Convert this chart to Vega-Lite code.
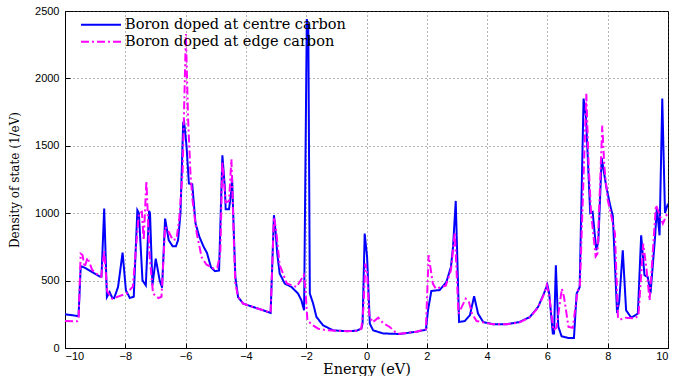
{
  "$schema": "https://vega.github.io/schema/vega-lite/v6.json",
  "width": 603,
  "height": 337,
  "autosize": {"type": "none"},
  "padding": {"left": 65, "top": 11, "right": 9, "bottom": 28},
  "background": "white",
  "config": {
    "view": {"stroke": "black", "strokeWidth": 1},
    "axis": {
      "domainColor": "black",
      "tickColor": "black",
      "gridColor": "#444",
      "gridDash": [1, 3],
      "gridOpacity": 0.8,
      "labelFont": "Liberation Sans",
      "labelFontSize": 11,
      "labelColor": "black",
      "titleFont": "DejaVu Serif",
      "titleFontSize": 14.5,
      "titleFontWeight": "normal",
      "titleColor": "black"
    }
  },
  "data": {
    "values": [
      {"energy": -10, "dos": 250, "series": "Boron doped at centre carbon"},
      {"energy": -9.6, "dos": 238, "series": "Boron doped at centre carbon"},
      {"energy": -9.55, "dos": 240, "series": "Boron doped at centre carbon"},
      {"energy": -9.48, "dos": 600, "series": "Boron doped at centre carbon"},
      {"energy": -9.44, "dos": 605, "series": "Boron doped at centre carbon"},
      {"energy": -9.3, "dos": 590, "series": "Boron doped at centre carbon"},
      {"energy": -9.0, "dos": 550, "series": "Boron doped at centre carbon"},
      {"energy": -8.85, "dos": 530, "series": "Boron doped at centre carbon"},
      {"energy": -8.79, "dos": 530, "series": "Boron doped at centre carbon"},
      {"energy": -8.7, "dos": 1035, "series": "Boron doped at centre carbon"},
      {"energy": -8.61, "dos": 378, "series": "Boron doped at centre carbon"},
      {"energy": -8.52, "dos": 415, "series": "Boron doped at centre carbon"},
      {"energy": -8.43, "dos": 371, "series": "Boron doped at centre carbon"},
      {"energy": -8.37, "dos": 370, "series": "Boron doped at centre carbon"},
      {"energy": -8.24, "dos": 453, "series": "Boron doped at centre carbon"},
      {"energy": -8.09, "dos": 708, "series": "Boron doped at centre carbon"},
      {"energy": -7.98, "dos": 428, "series": "Boron doped at centre carbon"},
      {"energy": -7.85, "dos": 371, "series": "Boron doped at centre carbon"},
      {"energy": -7.72, "dos": 380, "series": "Boron doped at centre carbon"},
      {"energy": -7.6, "dos": 1022, "series": "Boron doped at centre carbon"},
      {"energy": -7.55, "dos": 1000, "series": "Boron doped at centre carbon"},
      {"energy": -7.43, "dos": 502, "series": "Boron doped at centre carbon"},
      {"energy": -7.32, "dos": 465, "series": "Boron doped at centre carbon"},
      {"energy": -7.21, "dos": 1017, "series": "Boron doped at centre carbon"},
      {"energy": -7.18, "dos": 1000, "series": "Boron doped at centre carbon"},
      {"energy": -7.1, "dos": 465, "series": "Boron doped at centre carbon"},
      {"energy": -6.99, "dos": 663, "series": "Boron doped at centre carbon"},
      {"energy": -6.86, "dos": 502, "series": "Boron doped at centre carbon"},
      {"energy": -6.78, "dos": 448, "series": "Boron doped at centre carbon"},
      {"energy": -6.68, "dos": 960, "series": "Boron doped at centre carbon"},
      {"energy": -6.65, "dos": 920, "series": "Boron doped at centre carbon"},
      {"energy": -6.56, "dos": 800, "series": "Boron doped at centre carbon"},
      {"energy": -6.43, "dos": 755, "series": "Boron doped at centre carbon"},
      {"energy": -6.32, "dos": 755, "series": "Boron doped at centre carbon"},
      {"energy": -6.25, "dos": 800, "series": "Boron doped at centre carbon"},
      {"energy": -6.17, "dos": 1000, "series": "Boron doped at centre carbon"},
      {"energy": -6.08, "dos": 1670, "series": "Boron doped at centre carbon"},
      {"energy": -6.05, "dos": 1680, "series": "Boron doped at centre carbon"},
      {"energy": -5.97, "dos": 1500, "series": "Boron doped at centre carbon"},
      {"energy": -5.89, "dos": 1220, "series": "Boron doped at centre carbon"},
      {"energy": -5.78, "dos": 1215, "series": "Boron doped at centre carbon"},
      {"energy": -5.67, "dos": 923, "series": "Boron doped at centre carbon"},
      {"energy": -5.54, "dos": 823, "series": "Boron doped at centre carbon"},
      {"energy": -5.4, "dos": 750, "series": "Boron doped at centre carbon"},
      {"energy": -5.29, "dos": 705, "series": "Boron doped at centre carbon"},
      {"energy": -5.16, "dos": 600, "series": "Boron doped at centre carbon"},
      {"energy": -5.03, "dos": 570, "series": "Boron doped at centre carbon"},
      {"energy": -4.89, "dos": 575, "series": "Boron doped at centre carbon"},
      {"energy": -4.78, "dos": 1430, "series": "Boron doped at centre carbon"},
      {"energy": -4.7, "dos": 1195, "series": "Boron doped at centre carbon"},
      {"energy": -4.67, "dos": 1030, "series": "Boron doped at centre carbon"},
      {"energy": -4.56, "dos": 1030, "series": "Boron doped at centre carbon"},
      {"energy": -4.48, "dos": 1170, "series": "Boron doped at centre carbon"},
      {"energy": -4.46, "dos": 1280, "series": "Boron doped at centre carbon"},
      {"energy": -4.4, "dos": 850, "series": "Boron doped at centre carbon"},
      {"energy": -4.35, "dos": 527, "series": "Boron doped at centre carbon"},
      {"energy": -4.26, "dos": 378, "series": "Boron doped at centre carbon"},
      {"energy": -4.09, "dos": 329, "series": "Boron doped at centre carbon"},
      {"energy": -3.76, "dos": 304, "series": "Boron doped at centre carbon"},
      {"energy": -3.43, "dos": 280, "series": "Boron doped at centre carbon"},
      {"energy": -3.18, "dos": 260, "series": "Boron doped at centre carbon"},
      {"energy": -3.07, "dos": 985, "series": "Boron doped at centre carbon"},
      {"energy": -3.01, "dos": 849, "series": "Boron doped at centre carbon"},
      {"energy": -2.96, "dos": 700, "series": "Boron doped at centre carbon"},
      {"energy": -2.88, "dos": 552, "series": "Boron doped at centre carbon"},
      {"energy": -2.71, "dos": 478, "series": "Boron doped at centre carbon"},
      {"energy": -2.49, "dos": 453, "series": "Boron doped at centre carbon"},
      {"energy": -2.27, "dos": 404, "series": "Boron doped at centre carbon"},
      {"energy": -2.16, "dos": 354, "series": "Boron doped at centre carbon"},
      {"energy": -2.07, "dos": 280, "series": "Boron doped at centre carbon"},
      {"energy": -1.98, "dos": 2440, "series": "Boron doped at centre carbon"},
      {"energy": -1.93, "dos": 2380, "series": "Boron doped at centre carbon"},
      {"energy": -1.88, "dos": 404, "series": "Boron doped at centre carbon"},
      {"energy": -1.77, "dos": 330, "series": "Boron doped at centre carbon"},
      {"energy": -1.66, "dos": 230, "series": "Boron doped at centre carbon"},
      {"energy": -1.44, "dos": 168, "series": "Boron doped at centre carbon"},
      {"energy": -1.11, "dos": 131, "series": "Boron doped at centre carbon"},
      {"energy": -0.66, "dos": 125, "series": "Boron doped at centre carbon"},
      {"energy": -0.33, "dos": 128, "series": "Boron doped at centre carbon"},
      {"energy": -0.17, "dos": 144, "series": "Boron doped at centre carbon"},
      {"energy": -0.13, "dos": 183, "series": "Boron doped at centre carbon"},
      {"energy": -0.06, "dos": 849, "series": "Boron doped at centre carbon"},
      {"energy": 0.02, "dos": 675, "series": "Boron doped at centre carbon"},
      {"energy": 0.11, "dos": 181, "series": "Boron doped at centre carbon"},
      {"energy": 0.22, "dos": 131, "series": "Boron doped at centre carbon"},
      {"energy": 0.55, "dos": 108, "series": "Boron doped at centre carbon"},
      {"energy": 1.1, "dos": 104, "series": "Boron doped at centre carbon"},
      {"energy": 1.66, "dos": 121, "series": "Boron doped at centre carbon"},
      {"energy": 1.97, "dos": 136, "series": "Boron doped at centre carbon"},
      {"energy": 2.04, "dos": 280, "series": "Boron doped at centre carbon"},
      {"energy": 2.15, "dos": 423, "series": "Boron doped at centre carbon"},
      {"energy": 2.43, "dos": 430, "series": "Boron doped at centre carbon"},
      {"energy": 2.65, "dos": 490, "series": "Boron doped at centre carbon"},
      {"energy": 2.8, "dos": 601, "series": "Boron doped at centre carbon"},
      {"energy": 2.87, "dos": 750, "series": "Boron doped at centre carbon"},
      {"energy": 2.96, "dos": 1091, "series": "Boron doped at centre carbon"},
      {"energy": 3.07, "dos": 193, "series": "Boron doped at centre carbon"},
      {"energy": 3.26, "dos": 200, "series": "Boron doped at centre carbon"},
      {"energy": 3.43, "dos": 243, "series": "Boron doped at centre carbon"},
      {"energy": 3.57, "dos": 384, "series": "Boron doped at centre carbon"},
      {"energy": 3.7, "dos": 255, "series": "Boron doped at centre carbon"},
      {"energy": 3.87, "dos": 193, "series": "Boron doped at centre carbon"},
      {"energy": 4.2, "dos": 176, "series": "Boron doped at centre carbon"},
      {"energy": 4.64, "dos": 176, "series": "Boron doped at centre carbon"},
      {"energy": 5.08, "dos": 193, "series": "Boron doped at centre carbon"},
      {"energy": 5.42, "dos": 230, "series": "Boron doped at centre carbon"},
      {"energy": 5.69, "dos": 304, "series": "Boron doped at centre carbon"},
      {"energy": 5.86, "dos": 391, "series": "Boron doped at centre carbon"},
      {"energy": 6.0, "dos": 470, "series": "Boron doped at centre carbon"},
      {"energy": 6.06, "dos": 404, "series": "Boron doped at centre carbon"},
      {"energy": 6.18, "dos": 107, "series": "Boron doped at centre carbon"},
      {"energy": 6.22, "dos": 107, "series": "Boron doped at centre carbon"},
      {"energy": 6.28, "dos": 614, "series": "Boron doped at centre carbon"},
      {"energy": 6.36, "dos": 160, "series": "Boron doped at centre carbon"},
      {"energy": 6.47, "dos": 87, "series": "Boron doped at centre carbon"},
      {"energy": 6.69, "dos": 74, "series": "Boron doped at centre carbon"},
      {"energy": 6.88, "dos": 74, "series": "Boron doped at centre carbon"},
      {"energy": 6.97, "dos": 404, "series": "Boron doped at centre carbon"},
      {"energy": 7.03, "dos": 430, "series": "Boron doped at centre carbon"},
      {"energy": 7.07, "dos": 453, "series": "Boron doped at centre carbon"},
      {"energy": 7.2, "dos": 1850, "series": "Boron doped at centre carbon"},
      {"energy": 7.28, "dos": 1714, "series": "Boron doped at centre carbon"},
      {"energy": 7.42, "dos": 1000, "series": "Boron doped at centre carbon"},
      {"energy": 7.5, "dos": 1010, "series": "Boron doped at centre carbon"},
      {"energy": 7.62, "dos": 725, "series": "Boron doped at centre carbon"},
      {"energy": 7.69, "dos": 790, "series": "Boron doped at centre carbon"},
      {"energy": 7.8, "dos": 1410, "series": "Boron doped at centre carbon"},
      {"energy": 7.95, "dos": 1200, "series": "Boron doped at centre carbon"},
      {"energy": 8.08, "dos": 1060, "series": "Boron doped at centre carbon"},
      {"energy": 8.17, "dos": 980, "series": "Boron doped at centre carbon"},
      {"energy": 8.31, "dos": 260, "series": "Boron doped at centre carbon"},
      {"energy": 8.38, "dos": 340, "series": "Boron doped at centre carbon"},
      {"energy": 8.5, "dos": 725, "series": "Boron doped at centre carbon"},
      {"energy": 8.61, "dos": 280, "series": "Boron doped at centre carbon"},
      {"energy": 8.78, "dos": 225, "series": "Boron doped at centre carbon"},
      {"energy": 9.0, "dos": 255, "series": "Boron doped at centre carbon"},
      {"energy": 9.11, "dos": 836, "series": "Boron doped at centre carbon"},
      {"energy": 9.22, "dos": 540, "series": "Boron doped at centre carbon"},
      {"energy": 9.33, "dos": 525, "series": "Boron doped at centre carbon"},
      {"energy": 9.42, "dos": 404, "series": "Boron doped at centre carbon"},
      {"energy": 9.57, "dos": 820, "series": "Boron doped at centre carbon"},
      {"energy": 9.63, "dos": 1040, "series": "Boron doped at centre carbon"},
      {"energy": 9.72, "dos": 836, "series": "Boron doped at centre carbon"},
      {"energy": 9.81, "dos": 1850, "series": "Boron doped at centre carbon"},
      {"energy": 9.9, "dos": 1002, "series": "Boron doped at centre carbon"},
      {"energy": 10.0, "dos": 1071, "series": "Boron doped at centre carbon"},

      {"energy": -10, "dos": 200, "series": "Boron doped at edge carbon"},
      {"energy": -9.6, "dos": 198, "series": "Boron doped at edge carbon"},
      {"energy": -9.55, "dos": 215, "series": "Boron doped at edge carbon"},
      {"energy": -9.48, "dos": 700, "series": "Boron doped at edge carbon"},
      {"energy": -9.42, "dos": 690, "series": "Boron doped at edge carbon"},
      {"energy": -9.35, "dos": 600, "series": "Boron doped at edge carbon"},
      {"energy": -9.25, "dos": 670, "series": "Boron doped at edge carbon"},
      {"energy": -9.1, "dos": 580, "series": "Boron doped at edge carbon"},
      {"energy": -8.95, "dos": 550, "series": "Boron doped at edge carbon"},
      {"energy": -8.8, "dos": 530, "series": "Boron doped at edge carbon"},
      {"energy": -8.7, "dos": 720, "series": "Boron doped at edge carbon"},
      {"energy": -8.6, "dos": 420, "series": "Boron doped at edge carbon"},
      {"energy": -8.43, "dos": 365, "series": "Boron doped at edge carbon"},
      {"energy": -8.2, "dos": 385, "series": "Boron doped at edge carbon"},
      {"energy": -7.96, "dos": 404, "series": "Boron doped at edge carbon"},
      {"energy": -7.75, "dos": 455, "series": "Boron doped at edge carbon"},
      {"energy": -7.55, "dos": 1000, "series": "Boron doped at edge carbon"},
      {"energy": -7.45, "dos": 1010, "series": "Boron doped at edge carbon"},
      {"energy": -7.39, "dos": 800, "series": "Boron doped at edge carbon"},
      {"energy": -7.3, "dos": 1240, "series": "Boron doped at edge carbon"},
      {"energy": -7.2, "dos": 700, "series": "Boron doped at edge carbon"},
      {"energy": -7.08, "dos": 404, "series": "Boron doped at edge carbon"},
      {"energy": -6.9, "dos": 370, "series": "Boron doped at edge carbon"},
      {"energy": -6.8, "dos": 380, "series": "Boron doped at edge carbon"},
      {"energy": -6.68, "dos": 898, "series": "Boron doped at edge carbon"},
      {"energy": -6.58, "dos": 870, "series": "Boron doped at edge carbon"},
      {"energy": -6.42, "dos": 800, "series": "Boron doped at edge carbon"},
      {"energy": -6.3, "dos": 810, "series": "Boron doped at edge carbon"},
      {"energy": -6.21, "dos": 960, "series": "Boron doped at edge carbon"},
      {"energy": -6.1, "dos": 1300, "series": "Boron doped at edge carbon"},
      {"energy": -5.99, "dos": 2330, "series": "Boron doped at edge carbon"},
      {"energy": -5.92, "dos": 1714, "series": "Boron doped at edge carbon"},
      {"energy": -5.84, "dos": 1300, "series": "Boron doped at edge carbon"},
      {"energy": -5.77, "dos": 1096, "series": "Boron doped at edge carbon"},
      {"energy": -5.63, "dos": 850, "series": "Boron doped at edge carbon"},
      {"energy": -5.47, "dos": 675, "series": "Boron doped at edge carbon"},
      {"energy": -5.31, "dos": 620, "series": "Boron doped at edge carbon"},
      {"energy": -5.08, "dos": 590, "series": "Boron doped at edge carbon"},
      {"energy": -4.95, "dos": 595, "series": "Boron doped at edge carbon"},
      {"energy": -4.85, "dos": 700, "series": "Boron doped at edge carbon"},
      {"energy": -4.78, "dos": 1380, "series": "Boron doped at edge carbon"},
      {"energy": -4.67, "dos": 1080, "series": "Boron doped at edge carbon"},
      {"energy": -4.56, "dos": 1090, "series": "Boron doped at edge carbon"},
      {"energy": -4.48, "dos": 1400, "series": "Boron doped at edge carbon"},
      {"energy": -4.4, "dos": 800, "series": "Boron doped at edge carbon"},
      {"energy": -4.35, "dos": 480, "series": "Boron doped at edge carbon"},
      {"energy": -4.26, "dos": 380, "series": "Boron doped at edge carbon"},
      {"energy": -4.09, "dos": 329, "series": "Boron doped at edge carbon"},
      {"energy": -3.76, "dos": 304, "series": "Boron doped at edge carbon"},
      {"energy": -3.43, "dos": 280, "series": "Boron doped at edge carbon"},
      {"energy": -3.18, "dos": 262, "series": "Boron doped at edge carbon"},
      {"energy": -3.07, "dos": 970, "series": "Boron doped at edge carbon"},
      {"energy": -3.0, "dos": 880, "series": "Boron doped at edge carbon"},
      {"energy": -2.88, "dos": 615, "series": "Boron doped at edge carbon"},
      {"energy": -2.64, "dos": 478, "series": "Boron doped at edge carbon"},
      {"energy": -2.32, "dos": 453, "series": "Boron doped at edge carbon"},
      {"energy": -2.08, "dos": 540, "series": "Boron doped at edge carbon"},
      {"energy": -2.03, "dos": 450, "series": "Boron doped at edge carbon"},
      {"energy": -1.96, "dos": 205, "series": "Boron doped at edge carbon"},
      {"energy": -1.78, "dos": 168, "series": "Boron doped at edge carbon"},
      {"energy": -1.6, "dos": 143, "series": "Boron doped at edge carbon"},
      {"energy": -1.3, "dos": 131, "series": "Boron doped at edge carbon"},
      {"energy": -0.66, "dos": 125, "series": "Boron doped at edge carbon"},
      {"energy": -0.33, "dos": 128, "series": "Boron doped at edge carbon"},
      {"energy": -0.17, "dos": 144, "series": "Boron doped at edge carbon"},
      {"energy": -0.1, "dos": 300, "series": "Boron doped at edge carbon"},
      {"energy": -0.04, "dos": 626, "series": "Boron doped at edge carbon"},
      {"energy": 0.02, "dos": 560, "series": "Boron doped at edge carbon"},
      {"energy": 0.09, "dos": 250, "series": "Boron doped at edge carbon"},
      {"energy": 0.2, "dos": 190, "series": "Boron doped at edge carbon"},
      {"energy": 0.39, "dos": 225, "series": "Boron doped at edge carbon"},
      {"energy": 0.55, "dos": 185, "series": "Boron doped at edge carbon"},
      {"energy": 0.77, "dos": 156, "series": "Boron doped at edge carbon"},
      {"energy": 0.95, "dos": 120, "series": "Boron doped at edge carbon"},
      {"energy": 1.1, "dos": 105, "series": "Boron doped at edge carbon"},
      {"energy": 1.66, "dos": 121, "series": "Boron doped at edge carbon"},
      {"energy": 1.97, "dos": 140, "series": "Boron doped at edge carbon"},
      {"energy": 2.06, "dos": 688, "series": "Boron doped at edge carbon"},
      {"energy": 2.2, "dos": 478, "series": "Boron doped at edge carbon"},
      {"energy": 2.3, "dos": 440, "series": "Boron doped at edge carbon"},
      {"energy": 2.63, "dos": 462, "series": "Boron doped at edge carbon"},
      {"energy": 2.8, "dos": 577, "series": "Boron doped at edge carbon"},
      {"energy": 2.93, "dos": 860, "series": "Boron doped at edge carbon"},
      {"energy": 3.05, "dos": 255, "series": "Boron doped at edge carbon"},
      {"energy": 3.16, "dos": 305, "series": "Boron doped at edge carbon"},
      {"energy": 3.29, "dos": 366, "series": "Boron doped at edge carbon"},
      {"energy": 3.4, "dos": 340, "series": "Boron doped at edge carbon"},
      {"energy": 3.5, "dos": 255, "series": "Boron doped at edge carbon"},
      {"energy": 3.65, "dos": 200, "series": "Boron doped at edge carbon"},
      {"energy": 3.87, "dos": 190, "series": "Boron doped at edge carbon"},
      {"energy": 4.2, "dos": 176, "series": "Boron doped at edge carbon"},
      {"energy": 4.64, "dos": 176, "series": "Boron doped at edge carbon"},
      {"energy": 5.08, "dos": 190, "series": "Boron doped at edge carbon"},
      {"energy": 5.42, "dos": 228, "series": "Boron doped at edge carbon"},
      {"energy": 5.69, "dos": 300, "series": "Boron doped at edge carbon"},
      {"energy": 5.86, "dos": 385, "series": "Boron doped at edge carbon"},
      {"energy": 5.98, "dos": 468, "series": "Boron doped at edge carbon"},
      {"energy": 6.06, "dos": 390, "series": "Boron doped at edge carbon"},
      {"energy": 6.2, "dos": 131, "series": "Boron doped at edge carbon"},
      {"energy": 6.3, "dos": 150, "series": "Boron doped at edge carbon"},
      {"energy": 6.48, "dos": 440, "series": "Boron doped at edge carbon"},
      {"energy": 6.55, "dos": 380, "series": "Boron doped at edge carbon"},
      {"energy": 6.7, "dos": 156, "series": "Boron doped at edge carbon"},
      {"energy": 6.84, "dos": 150, "series": "Boron doped at edge carbon"},
      {"energy": 6.93, "dos": 300, "series": "Boron doped at edge carbon"},
      {"energy": 7.0, "dos": 420, "series": "Boron doped at edge carbon"},
      {"energy": 7.08, "dos": 470, "series": "Boron doped at edge carbon"},
      {"energy": 7.29, "dos": 1885, "series": "Boron doped at edge carbon"},
      {"energy": 7.37, "dos": 1343, "series": "Boron doped at edge carbon"},
      {"energy": 7.45, "dos": 1000, "series": "Boron doped at edge carbon"},
      {"energy": 7.6, "dos": 680, "series": "Boron doped at edge carbon"},
      {"energy": 7.66, "dos": 700, "series": "Boron doped at edge carbon"},
      {"energy": 7.82, "dos": 1650, "series": "Boron doped at edge carbon"},
      {"energy": 7.89, "dos": 1343, "series": "Boron doped at edge carbon"},
      {"energy": 8.0, "dos": 1100, "series": "Boron doped at edge carbon"},
      {"energy": 8.1, "dos": 1000, "series": "Boron doped at edge carbon"},
      {"energy": 8.24, "dos": 850, "series": "Boron doped at edge carbon"},
      {"energy": 8.34, "dos": 230, "series": "Boron doped at edge carbon"},
      {"energy": 8.4, "dos": 210, "series": "Boron doped at edge carbon"},
      {"energy": 8.6, "dos": 225, "series": "Boron doped at edge carbon"},
      {"energy": 8.9, "dos": 220, "series": "Boron doped at edge carbon"},
      {"energy": 9.02, "dos": 240, "series": "Boron doped at edge carbon"},
      {"energy": 9.18, "dos": 775, "series": "Boron doped at edge carbon"},
      {"energy": 9.29, "dos": 580, "series": "Boron doped at edge carbon"},
      {"energy": 9.39, "dos": 354, "series": "Boron doped at edge carbon"},
      {"energy": 9.6, "dos": 1060, "series": "Boron doped at edge carbon"},
      {"energy": 9.7, "dos": 1000, "series": "Boron doped at edge carbon"},
      {"energy": 9.83, "dos": 923, "series": "Boron doped at edge carbon"},
      {"energy": 9.98, "dos": 1000, "series": "Boron doped at edge carbon"}
    ]
  },
  "mark": {"type": "line", "strokeWidth": 2, "clip": true},
  "encoding": {
    "x": {
      "field": "energy",
      "type": "quantitative",
      "scale": {"domain": [-10, 10], "nice": false, "zero": false},
      "axis": {
        "title": "Energy (eV)",
        "values": [-10, -8, -6, -4, -2, 0, 2, 4, 6, 8, 10],
        "labelExpr": "replace(datum.label, '-', '\u2212')",
        "tickSize": -5,
        "labelPadding": 7,
        "titleY": 25,
        "titleBaseline": "alphabetic",
        "grid": true
      }
    },
    "y": {
      "field": "dos",
      "type": "quantitative",
      "scale": {"domain": [0, 2500], "nice": false},
      "axis": {
        "title": "Density of state (1/eV)",
        "titleFontSize": 12,
        "values": [0, 500, 1000, 1500, 2000, 2500],
        "format": "d",
        "tickSize": -5,
        "labelPadding": 11,
        "titlePadding": 13,
        "grid": true
      }
    },
    "color": {
      "field": "series",
      "type": "nominal",
      "scale": {
        "domain": ["Boron doped at centre carbon", "Boron doped at edge carbon"],
        "range": ["#0000ff", "#ff00ff"]
      },
      "legend": {
        "title": null,
        "orient": "none",
        "legendX": 15,
        "legendY": 6,
        "symbolType": "stroke",
        "symbolSize": 1600,
        "symbolStrokeWidth": 2,
        "clipHeight": 15.5,
        "rowPadding": 0,
        "labelFont": "DejaVu Serif",
        "labelFontSize": 14.5,
        "labelColor": "black",
        "labelLimit": 400,
        "labelOffset": 3
      }
    },
    "strokeDash": {
      "field": "series",
      "type": "nominal",
      "scale": {
        "domain": ["Boron doped at centre carbon", "Boron doped at edge carbon"],
        "range": [[1, 0], [8, 3, 2, 3]]
      },
      "legend": null
    }
  }
}
